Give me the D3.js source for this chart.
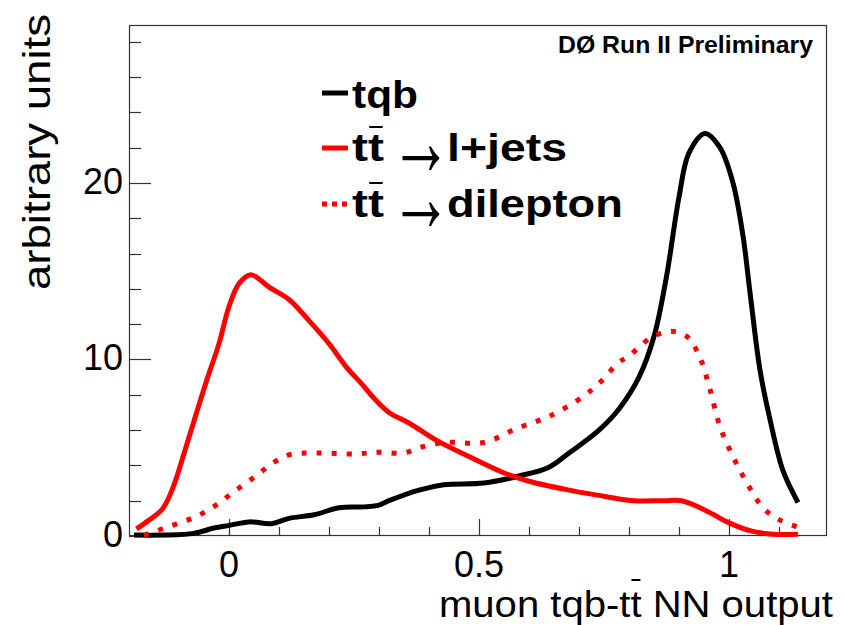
<!DOCTYPE html>
<html><head><meta charset="utf-8">
<script src="https://cdn.jsdelivr.net/npm/d3@7"></script>
<style>
html,body{margin:0;padding:0;background:#fff;}
text{font-family:"Liberation Sans",Arial,Helvetica,sans-serif;fill:#000;}
</style></head>
<body>
<svg id="chart" width="845" height="625"></svg>
<script>
// ---- data ----
const tqbX = [-0.19,-0.13,-0.07,-0.03,0,0.04,0.085,0.12,0.17,0.22,0.27,0.30,0.32,0.38,0.43,0.51,0.58,0.64,0.68,0.74,0.78,0.82,0.85,0.875,0.90,0.92,0.952,0.982,1.008,1.028,1.042,1.062,1.082,1.108,1.138];
const tqbY = [0.05,0.05,0.15,0.45,0.6,0.8,0.7,1.0,1.2,1.6,1.65,1.75,2.0,2.6,2.9,3.0,3.4,3.9,4.7,6.0,7.2,9.0,11.3,14.7,19.2,21.7,22.8,22.0,20.0,17.0,13.8,9.4,6.6,3.7,1.9];

const ljetsX = [-0.185,-0.17,-0.134,-0.114,-0.08,-0.046,-0.02,0,0.02,0.044,0.08,0.12,0.16,0.20,0.234,0.266,0.29,0.32,0.36,0.416,0.48,0.548,0.60,0.68,0.74,0.78,0.81,0.87,0.905,0.942,0.97,0.996,1.042,1.088,1.138];
const ljetsY = [0.4,0.7,1.5,2.6,5.6,8.7,10.9,13.0,14.3,14.8,14.1,13.4,12.2,10.9,9.6,8.6,7.8,7.0,6.4,5.4,4.5,3.6,3.1,2.6,2.3,2.1,2.0,2.0,2.0,1.6,1.2,0.8,0.3,0.1,0.1];

const dilepX = [-0.17,-0.114,-0.066,-0.026,0.014,0.054,0.086,0.12,0.174,0.254,0.30,0.35,0.38,0.43,0.51,0.576,0.642,0.708,0.742,0.778,0.80,0.842,0.882,0.916,0.942,0.962,0.982,1.008,1.036,1.068,1.102,1.138];
const dilepY = [0.05,0.6,1.1,1.75,2.6,3.4,4.1,4.6,4.7,4.65,4.75,4.7,5.0,5.3,5.3,6.1,6.8,7.9,8.7,9.8,10.2,11.2,11.6,11.3,10.1,8.3,6.2,4.5,3.0,1.6,0.9,0.5];

const xMajorTicks = [0, 0.5, 1];
const xTickLabels = ["0", "0.5", "1"];
const xMinorTicks = [0.1,0.2,0.3,0.4,0.6,0.7,0.8,0.9,1.1];
const yMajorTicks = [0, 10, 20];
const yTickLabels = ["0", "10", "20"];
const yMinorTicks = [2,4,6,8,12,14,16,18,22,24,26,28];

const xTitle = "muon tqb-tt NN output";
const yTitle = "arbitrary units";
const stamp = "DØ Run II Preliminary";
const legendNames = ["tqb", "l+jets", "dilepton"];

// ---- layout ----
const svg = d3.select("#chart");
const L = 129, R = 827, T = 25, B = 536;
const x = d3.scaleLinear().domain([-0.2, 1.196]).range([L, R]);
const y = d3.scaleLinear().domain([0, 28.95]).range([B, T]);

// frame
svg.append("rect").attr("x", L + 0.5).attr("y", T + 0.5)
  .attr("width", R - L - 1).attr("height", B - T - 1)
  .attr("fill", "none").attr("stroke", "#333").attr("stroke-width", 1.2);

// x ticks
const gx = svg.append("g");
gx.selectAll("line.maj").data(xMajorTicks).join("line").attr("class","maj")
  .attr("x1", d => Math.round(x(d)) + 0.5).attr("x2", d => Math.round(x(d)) + 0.5)
  .attr("y1", B).attr("y2", B - 17).attr("stroke", "#333").attr("stroke-width", 1.2);
gx.selectAll("line.min").data(xMinorTicks).join("line").attr("class","min")
  .attr("x1", d => Math.round(x(d)) + 0.5).attr("x2", d => Math.round(x(d)) + 0.5)
  .attr("y1", B).attr("y2", B - 9).attr("stroke", "#333").attr("stroke-width", 1.2);
gx.selectAll("text").data(xMajorTicks).join("text")
  .attr("x", d => x(d)).attr("y", 577).attr("text-anchor", "middle")
  .attr("font-size", 36).text((d, i) => xTickLabels[i]);

// y ticks
const gy = svg.append("g");
gy.selectAll("line.maj").data(yMajorTicks).join("line").attr("class","maj")
  .attr("x1", L).attr("x2", L + 22)
  .attr("y1", d => Math.round(y(d)) + 0.5).attr("y2", d => Math.round(y(d)) + 0.5)
  .attr("stroke", "#333").attr("stroke-width", 1.2);
gy.selectAll("line.min").data(yMinorTicks).join("line").attr("class","min")
  .attr("x1", L).attr("x2", L + 12)
  .attr("y1", d => Math.round(y(d)) + 0.5).attr("y2", d => Math.round(y(d)) + 0.5)
  .attr("stroke", "#333").attr("stroke-width", 1.2);
gy.selectAll("text").data(yMajorTicks).join("text")
  .attr("x", 123).attr("y", d => y(d) + 11).attr("text-anchor", "end")
  .attr("font-size", 36).text((d, i) => yTickLabels[i]);

// stretched text helper: draws text at (x0, base) scaled horizontally to width w
function stretched(parent, str, x0, base, w, size, weight, barIdx, barDy, family) {
  const g = parent.append("g");
  const t = g.append("text").attr("x", 0).attr("y", 0)
    .attr("font-size", size).attr("font-weight", weight).text(str);
  if (family) t.style("font-family", family);
  const nat = t.node().getComputedTextLength();
  const sx = w / nat;
  g.attr("transform", `translate(${x0},${base}) scale(${sx},1)`);
  if (barIdx != null) {
    const ext = t.node().getExtentOfChar(barIdx);
    g.append("line").attr("x1", ext.x + 1).attr("x2", ext.x + ext.width - 1)
      .attr("y1", -barDy).attr("y2", -barDy)
      .attr("stroke", "#000").attr("stroke-width", 2);
  }
  return g;
}

// titles
stretched(svg, xTitle, 439, 617, 394, 37, "normal", 10, 37);
svg.append("text").attr("transform", "translate(50,14) rotate(-90)")
  .attr("text-anchor", "end").attr("font-size", 38)
  .attr("textLength", 276).attr("lengthAdjust", "spacingAndGlyphs").text(yTitle);

// stamp
svg.append("text").attr("x", 813).attr("y", 53).attr("text-anchor", "end")
  .attr("font-size", 23).attr("font-weight", "bold")
  .attr("textLength", 255).attr("lengthAdjust", "spacingAndGlyphs").text(stamp);

// curves
const line = d3.line().x(d => x(d[0])).y(d => y(d[1])).curve(d3.curveCatmullRom.alpha(0.5));
const series = [
  {xs: tqbX, ys: tqbY, color: "#000", dash: null},
  {xs: ljetsX, ys: ljetsY, color: "#ff0000", dash: null},
  {xs: dilepX, ys: dilepY, color: "#ff0000", dash: "5,10"}
];
series.forEach(s => {
  svg.append("path").datum(s.xs.map((v, i) => [v, s.ys[i]]))
    .attr("d", line).attr("fill", "none").attr("stroke", s.color)
    .attr("stroke-width", 5).attr("stroke-dasharray", s.dash);
});

// legend
const lg = svg.append("g");
const rows = [
  {base: 108, ly: 93, color: "#000", dash: null},
  {base: 161, ly: 148, color: "#ff0000", dash: null},
  {base: 217, ly: 204, color: "#ff0000", dash: "5,5"}
];
rows.forEach((r, i) => {
  lg.append("line").attr("x1", 322).attr("x2", 348).attr("y1", r.ly).attr("y2", r.ly)
    .attr("stroke", r.color).attr("stroke-width", 5).attr("stroke-dasharray", r.dash);
  if (i === 0) {
    stretched(lg, legendNames[0], 352, r.base, 66, 38, "bold");
  } else {
    stretched(lg, "tt", 352, r.base, 32, 38, "bold", 1, 34);
    stretched(lg, "→", 390, r.base + 14, 62, 100, "normal", null, 0, "Liberation Sans");
    stretched(lg, legendNames[i], 447, r.base, i === 1 ? 120 : 176, 38, "bold");
  }
});
</script>
</body></html>
